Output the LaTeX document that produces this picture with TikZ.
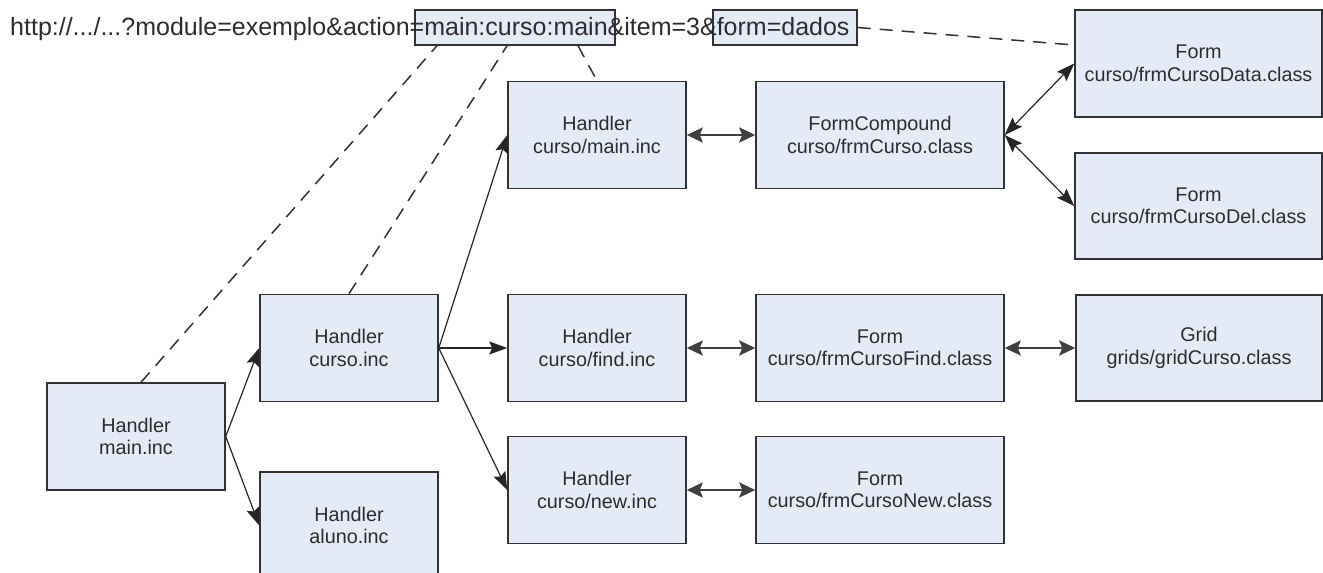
\documentclass[tikz,border=0pt]{standalone}
\usepackage{fontspec}
\setmainfont{Liberation Sans}
\usetikzlibrary{arrows.meta}
\definecolor{boxfill}{RGB}{228,234,246}
\definecolor{boxline}{RGB}{50,50,50}
\definecolor{txt}{RGB}{45,45,45}
\begin{document}
\begin{tikzpicture}[x=1pt,y=-1pt,
  box/.style={draw=boxline, fill=boxfill, line width=1.5pt, text=txt, align=center,
    inner sep=0pt, font=\fontsize{19.8}{22.5}\selectfont},
  hbox/.style={box, minimum width=178pt, minimum height=107pt},
  fbox/.style={box, minimum width=248pt, minimum height=107pt},
  ubox/.style={draw=boxline, fill=boxfill, line width=1.5pt, inner sep=0pt, minimum height=35pt},
  dashline/.style={draw=boxline, line width=1.5pt, dash pattern=on 13pt off 9pt},
  arr/.style={draw=black!85, line width=1.2pt, -{Stealth[length=18pt,width=13pt,inset=3pt]}},
  sarr/.style={draw=black!85, line width=1.2pt, {Stealth[length=18pt,width=13pt,inset=3pt]}-{Stealth[length=18pt,width=13pt,inset=3pt]}},
  darr/.style={draw=black!75, line width=2.6pt, {Stealth[length=16pt,width=15pt,inset=3pt]}-{Stealth[length=16pt,width=15pt,inset=3pt]}}
]
\useasboundingbox (0,0) rectangle (1323,573);
\fill[white] (0,0) rectangle (1323,573);

% URL boxes
\node[ubox, minimum width=200pt] (url1) at (515,27.5) {};
\node[ubox, minimum width=144pt] (url2) at (785,27.5) {};
\node[anchor=base west, inner sep=0pt, text=txt, font=\fontsize{25}{30}\selectfont] (url) at (10,35)
  {http://.../...?module=exemplo\&action=main:curso:main\&item=3\&form=dados};

% boxes
\node[hbox] (mainh) at (136,436.5) {Handler\\main.inc};
\node[hbox] (cursoh) at (349,348) {Handler\\curso.inc};
\node[hbox] (alunoh) at (349,525.5) {Handler\\aluno.inc};
\node[hbox] (hmain) at (597,135) {Handler\\curso/main.inc};
\node[hbox] (hfind) at (597,348) {Handler\\curso/find.inc};
\node[hbox] (hnew) at (597,490) {Handler\\curso/new.inc};
\node[fbox] (fcompound) at (880,135) {FormCompound\\curso/frmCurso.class};
\node[fbox] (ffind) at (880,348) {Form\\curso/frmCursoFind.class};
\node[fbox] (fnew) at (880,490) {Form\\curso/frmCursoNew.class};
\node[box, minimum width=247pt, minimum height=107pt] (fdata) at (1198.5,63.5) {Form\\curso/frmCursoData.class};
\node[box, minimum width=247pt, minimum height=106pt] (fdel) at (1198.5,206) {Form\\curso/frmCursoDel.class};
\node[box, minimum width=246pt, minimum height=106pt] (grid) at (1199,348) {Grid\\grids/gridCurso.class};

% dashed links
\draw[dashline] ([xshift=5pt]mainh.north) -- ([xshift=-78pt]url1.south);
\draw[dashline] (cursoh.north) -- ([xshift=-8pt]url1.south);
\draw[dashline] ([xshift=63pt]url1.south) -- (hmain.north);
\draw[dashline] (url2.east) -- ([yshift=18.5pt]fdata.west);

% arrows
\draw[arr] (mainh.east) -- (cursoh.west);
\draw[arr] (mainh.east) -- (alunoh.west);
\draw[arr] (cursoh.east) -- (hmain.west);
\draw[arr] (cursoh.east) -- (hfind.west);
\draw[arr] (cursoh.east) -- (hnew.west);
\draw[darr] (hmain.east) -- (fcompound.west);
\draw[darr] (hfind.east) -- (ffind.west);
\draw[darr] (ffind.east) -- (grid.west);
\draw[darr] (hnew.east) -- (fnew.west);
\draw[sarr] (fcompound.east) -- (fdata.west);
\draw[sarr] (fcompound.east) -- (fdel.west);
\end{tikzpicture}
\end{document}
